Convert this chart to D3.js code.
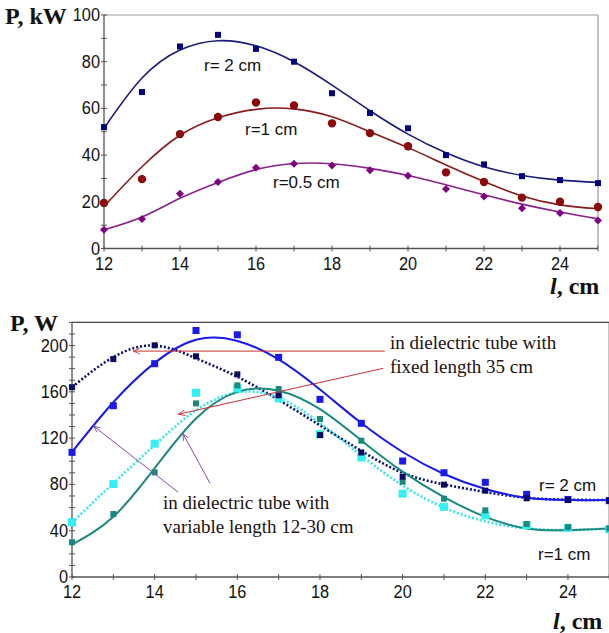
<!DOCTYPE html>
<html>
<head>
<meta charset="utf-8">
<script src="https://cdn.jsdelivr.net/npm/d3@7"></script>
<style>
  body { margin: 0; background: #fff; }
  svg { display: block; }
  .tick-label { font-family: "Liberation Sans", Arial, sans-serif; font-size: 19px; fill: #111; }
  .curve-label { font-family: "Liberation Sans", Arial, sans-serif; font-size: 17px; fill: #111; }
  .note { font-family: "Liberation Serif", "Times New Roman", serif; font-size: 19px; fill: #221111; }
  .title { font-family: "Liberation Serif", "Times New Roman", serif; font-weight: bold; font-size: 24px; fill: #111; }
</style>
</head>
<body>
<svg id="chart" width="609" height="633"></svg>
<script>
// lengths, cm
const lengths = [12, 13, 14, 15, 16, 17, 18, 19, 20, 21, 22, 23, 24, 25];
const xTicks = [12, 14, 16, 18, 20, 22, 24];

// top chart, P in kW (measured points)
const r2Pts = [52, 67, 86.5, 91.5, 85.5, 80, 66.5, 58, 51.5, 40, 36, 31, 29.3, 28];
const r1Pts = [19.5, 29.7, 49, 56.3, 62.5, 61.3, 53.6, 49.4, 43.8, 32.6, 28.5, 21.8, 20, 17.8];
const r05Pts = [8, 12.6, 23.5, 28.5, 34.6, 36.3, 35.5, 33.5, 31.2, 25.5, 22.3, 17.2, 15.2, 12];
// top chart fitted curves, read at each length
const r2Fit = [51.5, 73, 85, 89, 86.8, 80, 70, 59, 49, 41, 35, 31.3, 29.3, 28.3];
const r1Fit = [18, 35, 48.5, 56, 59.6, 59.8, 56.4, 50, 43.2, 35.8, 28.7, 22.5, 18.7, 17];
const r05Fit = [8, 13.5, 21.5, 28.3, 33.8, 36.4, 36.3, 34.3, 31.3, 27.3, 23, 19, 15.6, 12.7];
const topYTicks = [0, 20, 40, 60, 80, 100];

// bottom chart, P in W
const fixed2Pts = [164, 188.3, 200.2, 190.7, 175.1, 157, 122.6, 107.6, 86.7, 79.8, 74.6, 68, 66.5, 66];
const var2Pts = [107.7, 148, 184.3, 213, 209.3, 189.8, 153.5, 132.8, 100.2, 90.1, 81.8, 71.4, 67, 66];
const fixed1Pts = [47.2, 80.3, 115.2, 159.2, 163, 154.3, 123.5, 103.2, 72, 60.6, 53.3, 44.9, 42.5, 41.2];
const var1Pts = [30, 54.4, 90.4, 150, 165.6, 162.4, 136.5, 117.8, 82.3, 67.7, 57.6, 45.8, 43, 42];
const fixed2Fit = [164, 190, 200, 189, 173, 153, 131, 109, 90, 80, 73.5, 68.5, 66.8, 66.5];
const var2Fit = [108, 151, 185, 205, 204, 188, 162, 133, 108, 89, 76, 68.5, 66.5, 66.5];
const fixed1Fit = [47, 81, 114, 144, 159.5, 155, 133, 105, 79, 60, 48, 42, 40.5, 42];
const var1Fit = [28, 52, 94, 137, 160, 161, 145, 118, 91, 69, 52, 42, 40.5, 42];
const botYTicks = [0, 40, 80, 120, 160, 200];

const svg = d3.select("#chart");

function drawFrame(g, x, y, yTicks, yMinor, frameColor) {
  const [x0, x1] = x.range();
  const [yb, yt] = y.range();
  g.append("line").attr("x1", x0).attr("x2", x1).attr("y1", yt).attr("y2", yt)
    .attr("stroke", frameColor).attr("stroke-width", 1.2);
  g.append("line").attr("x1", x1).attr("x2", x1).attr("y1", yt).attr("y2", yb)
    .attr("stroke", frameColor).attr("stroke-width", 1.2);
  g.append("line").attr("x1", x0).attr("x2", x1).attr("y1", yb).attr("y2", yb)
    .attr("stroke", "#555").attr("stroke-width", 1.3);
  g.append("line").attr("x1", x0).attr("x2", x0).attr("y1", yt).attr("y2", yb)
    .attr("stroke", "#555").attr("stroke-width", 1.3);

  // minor and major ticks crossing the axes
  d3.range(y.domain()[0], y.domain()[1] + 0.01, yMinor).forEach(v => {
    g.append("line").attr("x1", x0 - 3).attr("x2", x0 + 3).attr("y1", y(v)).attr("y2", y(v))
      .attr("stroke", "#555");
  });
  lengths.forEach(v => {
    g.append("line").attr("x1", x(v)).attr("x2", x(v)).attr("y1", yb - 3).attr("y2", yb + 3)
      .attr("stroke", "#555");
  });
  // narrow tick labels, like the original
  yTicks.forEach(v => {
    g.append("text").attr("class", "tick-label")
      .attr("transform", `translate(${x0 - 4},${y(v) + 6}) scale(0.86,1)`)
      .attr("text-anchor", "end").text(v);
  });
  xTicks.forEach(v => {
    g.append("text").attr("class", "tick-label")
      .attr("transform", `translate(${x(v)},${yb + 21}) scale(0.86,1)`)
      .attr("text-anchor", "middle").text(v);
  });
}

function drawCurve(g, x, y, vals, color, width, dash) {
  const line = d3.line().x((d, i) => x(lengths[i])).y(d => y(d)).curve(d3.curveNatural);
  g.append("path").attr("d", line(vals)).attr("fill", "none")
    .attr("stroke", color).attr("stroke-width", width)
    .attr("stroke-dasharray", dash || null);
}

function drawSquares(g, x, y, vals, color, size) {
  g.selectAll(null).data(vals).join("rect")
    .attr("x", (d, i) => x(lengths[i]) - size / 2)
    .attr("y", d => y(d) - size / 2)
    .attr("width", size).attr("height", size).attr("fill", color);
}

// ---------- top chart ----------
const xTop = d3.scaleLinear().domain([12, 25]).range([104, 598]);
const yTop = d3.scaleLinear().domain([0, 100]).range([248.5, 15]);
const gTop = svg.append("g");
drawFrame(gTop, xTop, yTop, topYTicks, 10, "#999");

drawCurve(gTop, xTop, yTop, r2Fit, "#1a1a80", 1.6);
drawCurve(gTop, xTop, yTop, r1Fit, "#8b1a1a", 1.6);
drawCurve(gTop, xTop, yTop, r05Fit, "#8b208b", 1.6);

drawSquares(gTop, xTop, yTop, r2Pts, "#000080", 6);
gTop.selectAll(null).data(r1Pts).join("circle")
  .attr("cx", (d, i) => xTop(lengths[i])).attr("cy", d => yTop(d))
  .attr("r", 4.2).attr("fill", "#8b0a0a");
gTop.selectAll(null).data(r05Pts).join("path")
  .attr("transform", (d, i) => `translate(${xTop(lengths[i])},${yTop(d)})`)
  .attr("d", "M0,-4L4,0L0,4L-4,0Z").attr("fill", "#800080");

gTop.append("text").attr("class", "curve-label").attr("x", 204).attr("y", 71).text("r= 2 cm");
gTop.append("text").attr("class", "curve-label").attr("x", 245).attr("y", 135).text("r=1 cm");
gTop.append("text").attr("class", "curve-label").attr("x", 273).attr("y", 188).text("r=0.5 cm");

gTop.append("text").attr("class", "title").attr("x", 5).attr("y", 24).text("P, kW");
const lTop = gTop.append("text").attr("class", "title").attr("x", 550).attr("y", 294);
lTop.append("tspan").attr("font-style", "italic").text("l");
lTop.append("tspan").text(", cm");

// ---------- bottom chart ----------
const xBot = d3.scaleLinear().domain([12, 25]).range([72, 609.3]);
const yBot = d3.scaleLinear().domain([0, 220]).range([577, 322.4]);
const gBot = svg.append("g");
drawFrame(gBot, xBot, yBot, botYTicks, 10, "#444");

drawCurve(gBot, xBot, yBot, fixed2Fit, "#10107a", 2.6, "2,2");
drawCurve(gBot, xBot, yBot, fixed1Fit, "#33e8f0", 2.6, "2,2");
drawCurve(gBot, xBot, yBot, var1Fit, "#1a8a80", 2);
drawCurve(gBot, xBot, yBot, var2Fit, "#1a1aee", 2);

drawSquares(gBot, xBot, yBot, fixed1Pts, "#33f0f5", 8);
drawSquares(gBot, xBot, yBot, var1Pts, "#1a8a80", 6);
drawSquares(gBot, xBot, yBot, var2Pts, "#1a1aee", 7);
drawSquares(gBot, xBot, yBot, fixed2Pts, "#0a0a66", 6);

// annotation arrows, in data coordinates [x1, y1, x2, y2]
const redArrows = [[19.57, 195.2, 13.48, 195.2], [19.53, 180.3, 14.57, 140.6]];
const purpleArrows = [[14.57, 73.2, 12.52, 130.5], [15.34, 81, 14.68, 124.1]];

function arrowHead(id, color) {
  svg.append("defs").append("marker").attr("id", id)
    .attr("viewBox", "0 0 10 10").attr("refX", 10).attr("refY", 5)
    .attr("markerWidth", 7).attr("markerHeight", 7).attr("orient", "auto")
    .append("path").attr("d", "M0,1L10,5L0,9").attr("fill", "none")
    .attr("stroke", color).attr("stroke-width", 1.2);
}
arrowHead("redHead", "#cc3030");
arrowHead("purpleHead", "#8a4ab0");

function drawArrows(list, color, id) {
  gBot.selectAll(null).data(list).join("line")
    .attr("x1", d => xBot(d[0])).attr("y1", d => yBot(d[1]))
    .attr("x2", d => xBot(d[2])).attr("y2", d => yBot(d[3]))
    .attr("stroke", color).attr("stroke-width", 1)
    .attr("marker-end", `url(#${id})`);
}
drawArrows(redArrows, "#cc3030", "redHead");
drawArrows(purpleArrows, "#8a4ab0", "purpleHead");

gBot.append("text").attr("class", "note").attr("x", 390).attr("y", 349).text("in dielectric tube with");
gBot.append("text").attr("class", "note").attr("x", 390).attr("y", 373).text("fixed length 35 cm");
gBot.append("text").attr("class", "note").attr("x", 163).attr("y", 509).text("in dielectric tube with");
gBot.append("text").attr("class", "note").attr("x", 163).attr("y", 533).text("variable length 12-30 cm");

gBot.append("text").attr("class", "curve-label").attr("x", 539).attr("y", 491).text("r= 2 cm");
gBot.append("text").attr("class", "curve-label").attr("x", 538).attr("y", 560).text("r=1 cm");

gBot.append("text").attr("class", "title").attr("x", 10).attr("y", 331).text("P, W");
const lBot = gBot.append("text").attr("class", "title").attr("x", 553).attr("y", 629);
lBot.append("tspan").attr("font-style", "italic").text("l");
lBot.append("tspan").text(", cm");
</script>
</body>
</html>
